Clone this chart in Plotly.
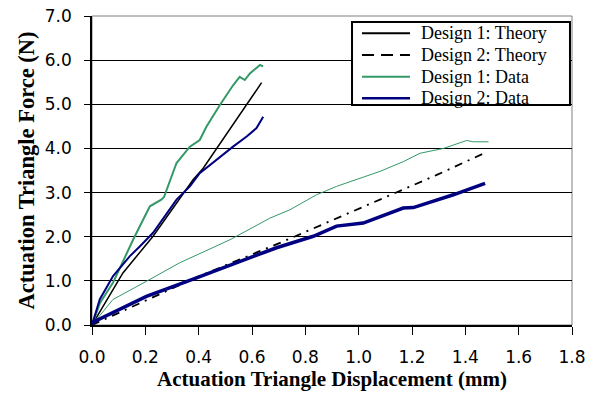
import plotly.graph_objects as go

# Design 1: Theory
d1_theory_x = [0.0, 0.116, 0.229, 0.379, 0.417, 0.58, 0.636]
d1_theory_y = [0.0, 1.18, 2.01, 3.29, 3.55, 4.98, 5.49]

# Design 2: Theory
d2_theory_x = [0.0, 0.2, 0.4, 0.6, 0.705, 0.892, 1.092, 1.293, 1.47]
d2_theory_y = [0.0, 0.55, 1.1, 1.6, 1.86, 2.35, 2.88, 3.40, 3.89]

# Design 1: Data (steep sample)
d1a_x = [0.0, 0.03, 0.079, 0.154, 0.217, 0.26, 0.27, 0.317, 0.367, 0.404, 0.429, 0.479, 0.529, 0.554, 0.573, 0.592, 0.63, 0.642]
d1a_y = [0.0, 0.5, 0.96, 1.93, 2.69, 2.84, 2.90, 3.67, 4.04, 4.19, 4.49, 4.98, 5.43, 5.62, 5.55, 5.70, 5.89, 5.86]

# Design 1: Data (shallow sample)
d1b_x = [0.0, 0.079, 0.204, 0.329, 0.517, 0.667, 0.742, 0.842, 0.917, 0.992, 1.08, 1.167, 1.23, 1.318, 1.405, 1.43, 1.487]
d1b_y = [0.0, 0.58, 0.99, 1.41, 1.93, 2.42, 2.61, 2.95, 3.14, 3.29, 3.48, 3.70, 3.89, 4.00, 4.18, 4.15, 4.15]

# Design 2: Data (steep sample)
d2a_x = [0.0, 0.029, 0.079, 0.142, 0.179, 0.229, 0.317, 0.367, 0.404, 0.479, 0.529, 0.58, 0.617, 0.642]
d2a_y = [0.0, 0.58, 1.11, 1.56, 1.78, 2.09, 2.84, 3.14, 3.44, 3.81, 4.04, 4.27, 4.46, 4.72]

# Design 2: Data (shallow sample)
d2b_x = [0.0, 0.204, 0.392, 0.604, 0.692, 0.83, 0.917, 1.017, 1.167, 1.205, 1.355, 1.474]
d2b_y = [0.05, 0.65, 1.07, 1.56, 1.75, 2.01, 2.24, 2.31, 2.65, 2.66, 2.95, 3.21]

x_ticks = [0.0, 0.2, 0.4, 0.6, 0.8, 1.0, 1.2, 1.4, 1.6, 1.8]
y_ticks = [0.0, 1.0, 2.0, 3.0, 4.0, 5.0, 6.0, 7.0]

legend_labels = ["Design 1: Theory", "Design 2: Theory", "Design 1: Data", "Design 2: Data"]

GREEN = "#339966"
NAVY = "#000080"
SERIF = "Liberation Serif, Times New Roman, serif"
SANS = "DejaVu Sans, Arial, sans-serif"

styles = [
    dict(color="black", width=1.5),
    dict(color="black", width=1.8, dash="8px,6px,2px,6px"),
    dict(color=GREEN, width=2),
    dict(color=NAVY, width=2),
]
legend_sample_styles = [
    dict(color="black", width=2),
    dict(color="black", width=2, dash="12px,7px"),
    dict(color=GREEN, width=2),
    dict(color=NAVY, width=2.5),
]

fig = go.Figure()
fig.add_trace(go.Scatter(x=d1_theory_x, y=d1_theory_y, mode="lines", name=legend_labels[0], line=styles[0]))
fig.add_trace(go.Scatter(x=d2_theory_x, y=d2_theory_y, mode="lines", name=legend_labels[1], line=styles[1]))
fig.add_trace(go.Scatter(x=d1a_x, y=d1a_y, mode="lines", name=legend_labels[2], line=styles[2]))
fig.add_trace(go.Scatter(x=d1b_x, y=d1b_y, mode="lines", name=legend_labels[2], line=dict(color=GREEN, width=1)))
fig.add_trace(go.Scatter(x=d2a_x, y=d2a_y, mode="lines", name=legend_labels[3], line=styles[3]))
fig.add_trace(go.Scatter(x=d2b_x, y=d2b_y, mode="lines", name=legend_labels[3], line=dict(color=NAVY, width=3.5)))

# gray frame around the plot area
fig.add_shape(type="rect", xref="paper", yref="paper", x0=0, y0=0, x1=1, y1=1,
              line=dict(color="#808080", width=1), layer="below")

# legend box (drawn as layout decoration to match the reference's compact rows)
lx0, lx1, ly0, ly1 = 0.5417, 0.9958, 0.712, 0.9806
fig.add_shape(type="rect", xref="paper", yref="paper", x0=lx0, x1=lx1, y0=ly0, y1=ly1,
              line=dict(color="black", width=2), fillcolor="white", layer="above")
row_y = [0.944, 0.874, 0.8036, 0.7337]
for label, st, ry in zip(legend_labels, legend_sample_styles, row_y):
    fig.add_shape(type="line", xref="paper", yref="paper", x0=0.5625, x1=0.6625, y0=ry, y1=ry,
                  line=st, layer="above")
    fig.add_annotation(xref="paper", yref="paper", x=0.681, y=ry, text=label, showarrow=False,
                       xanchor="left", yanchor="middle",
                       font=dict(family=SERIF, size=18, color="black"))

fig.update_layout(
    width=593, height=400,
    margin=dict(l=92, r=21, t=16, b=75),
    paper_bgcolor="white", plot_bgcolor="white",
    showlegend=False,
    xaxis=dict(range=[0, 1.8], tickvals=x_ticks, ticktext=[f"{v:.1f}" for v in x_ticks],
               showgrid=False, zeroline=False, automargin=False,
               showline=True, linecolor="black", linewidth=1.5,
               ticks="outside", ticklen=8, tickcolor="black", tickwidth=1,
               ticklabelstandoff=8,
               tickfont=dict(family=SANS, size=17, color="black"),
               title=dict(text="<b>Actuation Triangle Displacement (mm)</b>", standoff=5,
                          font=dict(family=SERIF, size=21, color="black"))),
    yaxis=dict(range=[0, 7], tickvals=y_ticks, ticktext=[f"{v:.1f}" for v in y_ticks],
               showgrid=True, gridcolor="black", gridwidth=1, zeroline=False, automargin=False,
               showline=True, linecolor="black", linewidth=1.5,
               ticks="outside", ticklen=6, tickcolor="black", tickwidth=1,
               ticklabelstandoff=9,
               tickfont=dict(family=SANS, size=17, color="black"),
               title=dict(text="<b>Actuation Triangle Force (N)</b>", standoff=4,
                          font=dict(family=SERIF, size=22.5, color="black"))),
)

fig.write_html("out.html", config={"displayModeBar": False},
               post_script="document.body.style.margin='0px';")
